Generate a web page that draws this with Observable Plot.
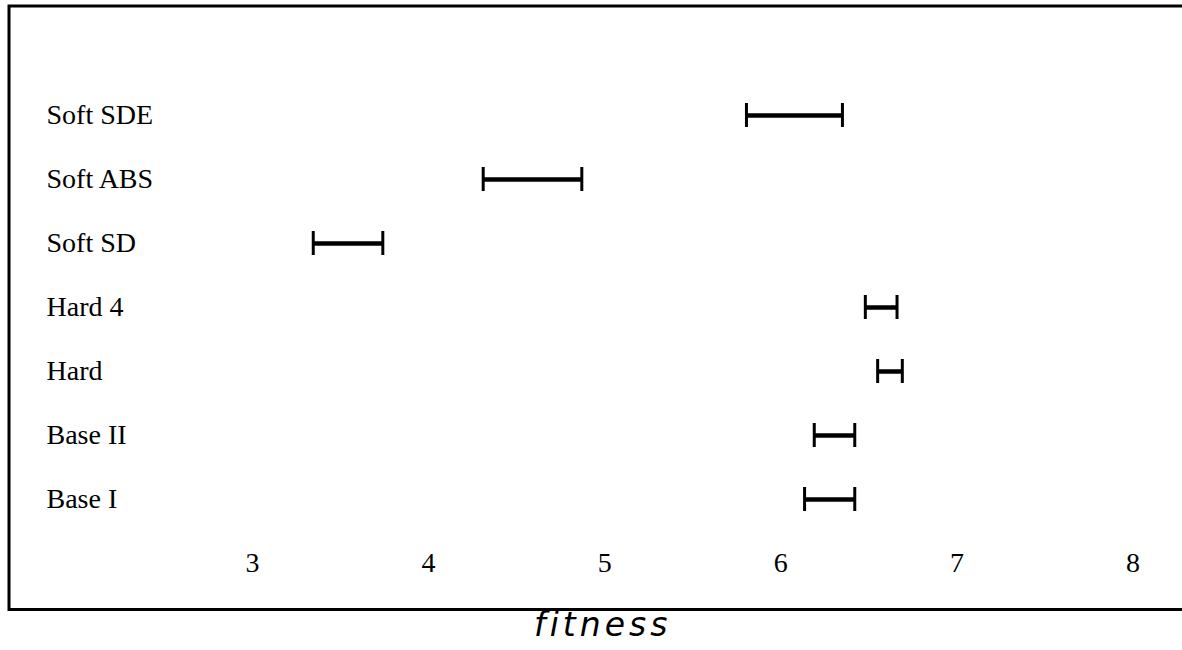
<!DOCTYPE html>
<html>
<head>
<meta charset="utf-8">
<script src="https://cdn.jsdelivr.net/npm/d3@7"></script>
<script src="https://cdn.jsdelivr.net/npm/@observablehq/plot@0.6"></script>
<style>
  html, body { margin: 0; padding: 0; background: #fff; }
</style>
</head>
<body>
<div id="chart"></div>
<script>
const categories = ["Soft SDE", "Soft ABS", "Soft SD", "Hard 4", "Hard", "Base II", "Base I"];
const lower = [5.805, 4.31, 3.345, 6.48, 6.55, 6.19, 6.135];
const upper = [6.35, 4.87, 3.74, 6.66, 6.69, 6.42, 6.42];
const xTicks = [3, 4, 5, 6, 7, 8];
const xTitle = "fitness";

const data = categories.map((c, i) => ({cat: c, lo: lower[i], hi: upper[i]}));
const serif = "'Liberation Serif', 'Times New Roman', serif";

const chart = Plot.plot({
  width: 1182,
  height: 650,
  marginLeft: 8.5,
  marginTop: 5.5,
  marginRight: -6,
  marginBottom: 41,
  style: {background: "white", overflow: "visible"},
  x: {domain: [3, 8], range: [252, 1132.5], axis: null},
  y: {type: "band", domain: categories, range: [83, 531.5], paddingInner: 0.6254, paddingOuter: 0.3127, axis: null},
  marks: [
    Plot.frame({stroke: "black", strokeWidth: 3}),
    Plot.ruleY(data, {y: "cat", x1: "lo", x2: "hi", stroke: "black", strokeWidth: 4.5}),
    Plot.tickX(data, {x: "lo", y: "cat", stroke: "black", strokeWidth: 3}),
    Plot.tickX(data, {x: "hi", y: "cat", stroke: "black", strokeWidth: 3}),
    Plot.text(categories, {y: d => d, text: d => d, frameAnchor: "left", dx: 37.5, textAnchor: "start",
      lineAnchor: "middle", fontSize: 28, fontFamily: serif, fill: "black"}),
    Plot.text(xTicks, {x: d => d, text: d => String(d), frameAnchor: "bottom", dy: -46.5,
      lineAnchor: "middle", fontSize: 28, fontFamily: serif, fill: "black"}),
    Plot.text([xTitle], {text: d => d, frameAnchor: "bottom", dy: 26, dx: 4, lineAnchor: "bottom",
      fontSize: 33, fontStyle: "italic", fontFamily: "'DejaVu Sans', Verdana, sans-serif", fill: "black"})
  ]
});

d3.select(chart).selectAll("text").filter(function() { return this.textContent === xTitle; })
  .attr("letter-spacing", "4px");

document.getElementById("chart").append(chart);
</script>
</body>
</html>
